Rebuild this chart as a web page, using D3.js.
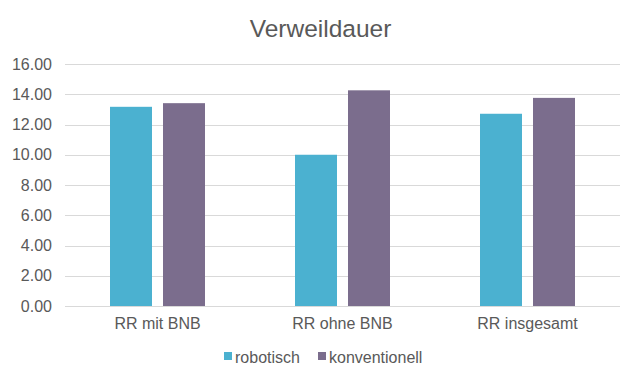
<!DOCTYPE html>
<html>
<head>
<meta charset="utf-8">
<script src="https://cdn.jsdelivr.net/npm/d3@7"></script>
<style>
  body { margin: 0; background: #fff; }
  svg { display: block; font-family: "Liberation Sans", Arial, sans-serif; }
</style>
</head>
<body>
<svg id="chart" width="640" height="384"></svg>
<script>
// chart data
var categories = ["RR mit BNB", "RR ohne BNB", "RR insgesamt"];
var seriesNames = ["robotisch", "konventionell"];
var robotisch = [13.17, 10.0, 12.71];
var konventionell = [13.41, 14.26, 13.76];
var yTicks = [0, 2, 4, 6, 8, 10, 12, 14, 16];

var colors = ["#4bb1d0", "#7b6d8d"];
var textColor = "#595959";

var svg = d3.select("#chart");
var margin = { left: 65, right: 20, top: 64, bottom: 78 };
var width = +svg.attr("width");
var height = +svg.attr("height");

// title
svg.append("text")
    .attr("x", 320.5)
    .attr("y", 37)
    .attr("text-anchor", "middle")
    .attr("fill", textColor)
    .style("font-size", "24.5px")
    .text("Verweildauer");

var x0 = d3.scaleBand()
    .domain(categories)
    .range([margin.left, width - margin.right])
    .paddingInner(0)
    .paddingOuter(0);

// bars take 95 of 185 px in each category, with 11 px between the two
var x1 = d3.scaleBand()
    .domain(seriesNames)
    .range([45, x0.bandwidth() - 45])
    .paddingInner(11 / 53);

var y = d3.scaleLinear()
    .domain([0, 16])
    .range([height - margin.bottom, margin.top]);

// gridlines
svg.append("g")
    .attr("class", "grid")
  .selectAll("line")
  .data(yTicks)
  .enter().append("line")
    .attr("x1", margin.left)
    .attr("x2", width - margin.right)
    .attr("y1", function(d) { return Math.round(y(d)) + 0.5; })
    .attr("y2", function(d) { return Math.round(y(d)) + 0.5; })
    .attr("stroke", "#d9d9d9")
    .attr("stroke-width", 1);

// y axis labels
var yAxis = d3.axisLeft(y)
    .tickValues(yTicks)
    .tickFormat(d3.format(".2f"))
    .tickSize(0)
    .tickPadding(13);

svg.append("g")
    .attr("transform", "translate(" + margin.left + ",0)")
    .call(yAxis)
    .call(function(g) { g.select(".domain").remove(); })
    .selectAll("text")
      .attr("fill", textColor)
      .style("font-size", "16px")
      .style("font-family", "Liberation Sans, Arial, sans-serif");

// bars
var rows = categories.map(function(c, i) {
  return { cat: c, values: [robotisch[i], konventionell[i]] };
});

var group = svg.append("g")
  .selectAll("g")
  .data(rows)
  .enter().append("g")
    .attr("transform", function(d) { return "translate(" + x0(d.cat) + ",0)"; });

group.selectAll("rect")
  .data(function(d) {
    return d.values.map(function(v, j) { return { name: seriesNames[j], value: v, idx: j }; });
  })
  .enter().append("rect")
    .attr("x", function(d) { return x1(d.name); })
    .attr("width", x1.bandwidth())
    .attr("y", function(d) { return y(d.value); })
    .attr("height", function(d) { return y(0) - y(d.value); })
    .attr("fill", function(d) { return colors[d.idx]; });

// x axis line
svg.append("line")
    .attr("x1", margin.left)
    .attr("x2", width - margin.right)
    .attr("y1", Math.round(y(0)) + 0.5)
    .attr("y2", Math.round(y(0)) + 0.5)
    .attr("stroke", "#d9d9d9");

// category labels
var xAxis = d3.axisBottom(x0).tickSize(0).tickPadding(12);
svg.append("g")
    .attr("transform", "translate(0," + y(0) + ")")
    .call(xAxis)
    .call(function(g) { g.select(".domain").remove(); })
    .selectAll("text")
      .attr("fill", textColor)
      .style("font-size", "16px")
      .style("font-family", "Liberation Sans, Arial, sans-serif");

// legend
var legendX = [224, 318];
var legend = svg.append("g")
  .selectAll("g")
  .data(seriesNames)
  .enter().append("g")
    .attr("transform", function(d, i) { return "translate(" + legendX[i] + ",363)"; });

legend.append("rect")
    .attr("x", 0)
    .attr("y", -11)
    .attr("width", 8)
    .attr("height", 8)
    .attr("fill", function(d, i) { return colors[i]; });

legend.append("text")
    .attr("x", 11)
    .attr("y", 0)
    .attr("fill", textColor)
    .style("font-size", "16px")
    .text(function(d) { return d; });
</script>
</body>
</html>
